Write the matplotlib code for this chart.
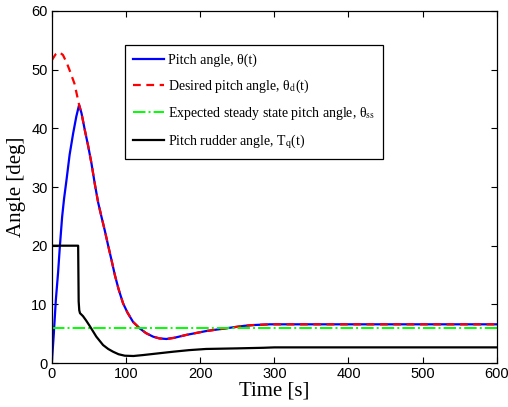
import matplotlib
matplotlib.use("Agg")
import matplotlib.pyplot as plt

# pitch angle theta(t)
t_pitch = [0, 2.7, 5.4, 8.5, 10.8, 13.9, 16.5, 19.8, 24, 28.7, 33, 36.8, 40, 44.5, 49, 53.5, 58, 62.4,
           67, 71.4, 76, 80.4, 85, 90, 96, 102, 109.6, 118.6, 127, 136.5, 145, 154.5, 165, 181.5,
           208, 225, 244, 260, 271, 294, 350, 450, 600]
pitch = [0, 5, 10.7, 15.5, 19.8, 24.9, 28.0, 31.2, 35.5, 39.1, 42, 44.0, 42.6, 39.7, 37.0, 34.0, 30.5, 27.4,
         24.9, 22.6, 20.0, 17.6, 15.0, 12.6, 10.2, 8.6, 7.0, 5.9, 5.1, 4.5, 4.2, 4.1, 4.3, 4.8,
         5.45, 5.75, 6.08, 6.35, 6.47, 6.6, 6.6, 6.6, 6.6]

# desired pitch angle theta_d(t)
t_desired = [0, 5, 10, 15, 20, 24, 30.6, 36.8, 40, 44.5, 49, 53.5, 58, 62.4,
             67, 71.4, 76, 80.4, 85, 90, 96, 102, 109.6, 118.6, 127, 136.5, 145, 154.5, 165, 181.5,
             208, 225, 244, 260, 271, 294, 350, 450, 600]
desired = [51.6, 52.6, 53.0, 52.5, 51.2, 49.9, 47.6, 44.0, 42.6, 39.7, 37.0, 34.0, 30.5, 27.4,
           24.9, 22.6, 20.0, 17.6, 15.0, 12.6, 10.2, 8.6, 7.0, 5.9, 5.1, 4.5, 4.2, 4.1, 4.3, 4.8,
           5.45, 5.75, 6.08, 6.35, 6.47, 6.6, 6.6, 6.6, 6.6]

# expected steady state
t_ss = [0, 600]
theta_ss = [6.0, 6.0]

# pitch rudder angle T_q(t)
t_rudder = [0, 35.5, 36.2, 37, 38, 42, 46, 51.2, 60, 69.1, 76, 82.6, 90, 98.4, 110, 123, 140, 163.5,
            185, 208, 250, 285, 300, 450, 600]
rudder = [20, 20, 10.5, 9.0, 8.5, 8.0, 7.3, 6.3, 4.5, 3.07, 2.4, 1.93, 1.5, 1.25, 1.2, 1.36, 1.6, 1.93,
          2.2, 2.4, 2.5, 2.6, 2.67, 2.67, 2.67]

plt.rcParams["mathtext.fontset"] = "stix"

fig = plt.figure(figsize=(5.08, 4.07), dpi=100)
ax = fig.add_axes([0.102, 0.108, 0.876, 0.865])

ax.plot(t_pitch, pitch, color="blue", lw=1.6, label=r"Pitch angle, θ(t)")
ax.plot(t_desired, desired, color="red", lw=1.6, ls=(0, (3.5, 2.5)), label=r"Desired pitch angle, θ$_\mathrm{d}$(t)")
ax.plot(t_ss, theta_ss, color="#00ff00", lw=1.4, ls="-.", label=r"Expected steady state pitch angle, θ$_\mathrm{ss}$")
ax.plot(t_rudder, rudder, color="black", lw=1.6, label=r"Pitch rudder angle, T$_\mathrm{q}$(t)")

ax.set_xlim(0, 600)
ax.set_ylim(0, 60)
ax.set_xticks(range(0, 601, 100))
ax.set_yticks(range(0, 61, 10))
ax.tick_params(direction="in", top=True, right=True, length=4, labelsize=10.5, pad=3)
for lab in ax.get_xticklabels() + ax.get_yticklabels():
    lab.set_fontfamily("Liberation Sans")
for s in ax.spines.values():
    s.set_linewidth(0.9)

ax.set_xlabel("Time [s]", fontfamily="Liberation Serif", fontsize=15, labelpad=0)
ax.set_ylabel("Angle [deg]", fontfamily="Liberation Serif", fontsize=15, labelpad=4)

leg = ax.legend(loc="upper left", bbox_to_anchor=(0.164, 0.903),
                prop={"family": "Liberation Serif", "size": 10},
                fancybox=False, edgecolor="black", framealpha=1,
                handlelength=2.2, handletextpad=0.3, labelspacing=0.75,
                borderaxespad=0, borderpad=0.6)
leg.get_frame().set_linewidth(0.9)

fig.savefig("out.png", dpi=100)
